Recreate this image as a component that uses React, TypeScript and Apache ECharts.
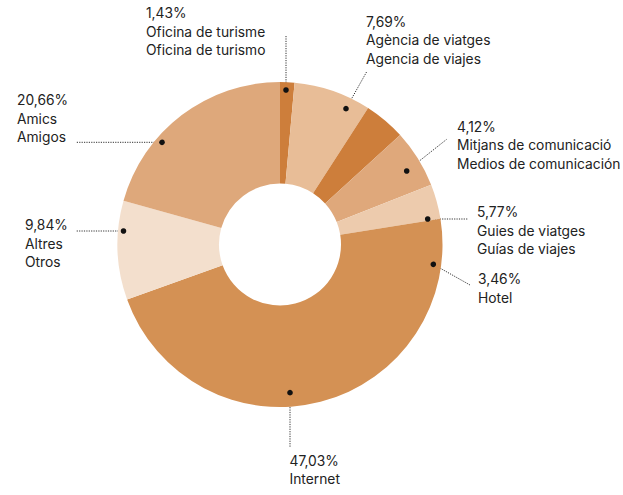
import React, { useEffect, useRef } from "react";
import * as echarts from "echarts";

const namesCa = [
  "Oficina de turisme",
  "Agència de viatges",
  "Mitjans de comunicació",
  "Guies de viatges",
  "Hotel",
  "Internet",
  "Altres",
  "Amics",
];
const namesEs = [
  "Oficina de turismo",
  "Agencia de viajes",
  "Medios de comunicación",
  "Guías de viajes",
  "",
  "",
  "Otros",
  "Amigos",
];
const shares = [1.43, 7.69, 4.12, 5.77, 3.46, 47.03, 9.84, 20.66];
const colors = ["#cd7e3b", "#e8bd97", "#cd7e3b", "#dfa87b", "#edcbad", "#d49154", "#f3dfcd", "#dea87b"];

// layout only: label box top-left and leader line (dot -> end)
const labelBox = [
  [146, 4],
  [366, 12.5],
  [457, 117.5],
  [477, 203],
  [478, 270],
  [289.5, 451.5],
  [25, 216],
  [17, 91],
];
const leader = [
  [[286, 90], [286, 36]],
  [[346, 108.7], [366.7, 71.7]],
  [[406.7, 171], [446.7, 139.3]],
  [[427.7, 219], [468.3, 219]],
  [[433.3, 264.3], [470, 285]],
  [[290, 392.7], [290, 446.7]],
  [[123.5, 231], [76, 231]],
  [[162, 142.3], [76, 142.3]],
];

const fmt = (v: number) => v.toFixed(2).replace(".", ",") + "%";

export default function App() {
  const ref = useRef<HTMLDivElement>(null);
  useEffect(() => {
    const chart = echarts.init(ref.current!, null, { renderer: "svg" });
    const font = "Inter, 'Noto Sans', sans-serif";
    chart.setOption({
      animation: false,
      backgroundColor: "#ffffff",
      graphic: leader.map((l) => ({
        type: "circle",
        z: 100,
        shape: { cx: l[0][0], cy: l[0][1], r: 2.8 },
        style: { fill: "#111111" },
      })),
      series: [
        {
          type: "pie",
          center: [280, 244.5],
          radius: [61, 162.5],
          startAngle: 90,
          clockwise: true,
          avoidLabelOverlap: false,
          emphasis: { disabled: true },
          itemStyle: { borderWidth: 0 },
          label: {
            show: true,
            position: "outside",
            formatter: (p: any) => {
              const i = p.dataIndex;
              const lines = [fmt(shares[i]), namesCa[i]];
              if (namesEs[i]) lines.push(namesEs[i]);
              return lines.join("\n");
            },
            fontFamily: font,
            fontSize: 13.8,
            lineHeight: 18.5,
            color: "#222222",
            align: "left",
            verticalAlign: "top",
          },
          labelLine: {
            show: true,
            lineStyle: { color: "#333333", width: 1, type: [1.2, 1.2] },
          },
          labelLayout: (p: any) => {
            const i = p.dataIndex;
            const l = leader[i];
            return {
              x: labelBox[i][0],
              y: labelBox[i][1],
              align: "left",
              verticalAlign: "top",
              labelLinePoints: [l[0], l[0], l[1]],
            };
          },
          data: shares.map((v, i) => ({
            value: v,
            name: namesCa[i],
            itemStyle: { color: colors[i] },
          })),
        },
      ],
    });
    return () => chart.dispose();
  }, []);
  return (
    <div
      ref={ref}
      style={{ position: "fixed", left: 0, top: 0, width: 623, height: 495 }}
    />
  );
}
